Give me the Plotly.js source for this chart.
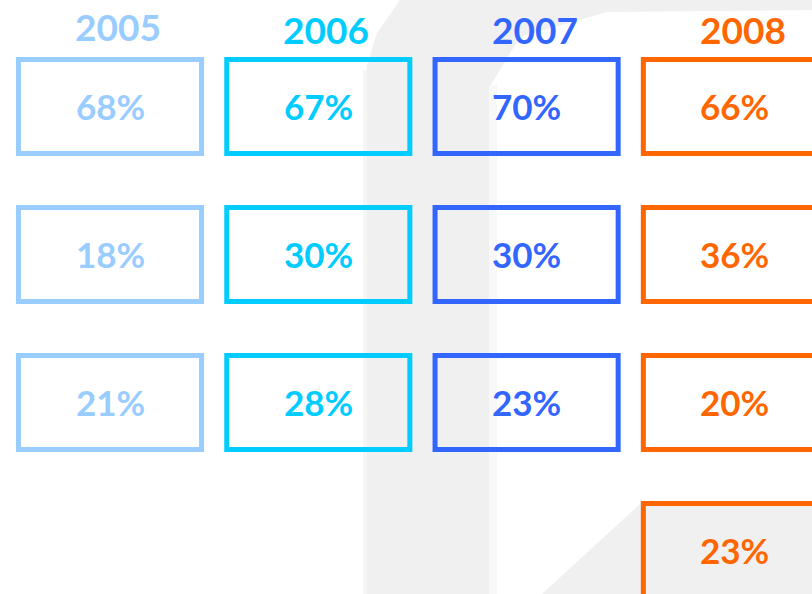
<!DOCTYPE html>
<html>
<head>
<meta charset="utf-8">
<script src="https://cdn.plot.ly/plotly-3.0.1.min.js"></script>
<style>html,body{margin:0;padding:0;background:#fff;}#chart{width:812px;height:594px;}</style>
</head>
<body>
<div id="chart"></div>
<script>
// ---- data ----
const years = ['2005', '2006', '2007', '2008'];
const values2005 = [68, 18, 21];
const values2006 = [67, 30, 28];
const values2007 = [70, 30, 23];
const values2008 = [66, 36, 20, 23];

// ---- style ----
const columns = [values2005, values2006, values2007, values2008];
const colors = ['#99ccff', '#00ccff', '#3366ff', '#ff6600'];
const W = 812, H = 594;
const FONT = 'Lato, "Open Sans", sans-serif';
const boxW = 0.879, boxH = 0.635;

const traces = [];
const annotations = [];
columns.forEach((vals, i) => {
  const rows = vals.map((_, r) => r);
  traces.push({
    type: 'bar',
    x: vals.map(() => i),
    y: vals.map(() => boxH),
    base: rows.map(r => r - boxH / 2),
    width: boxW,
    marker: {color: 'rgba(0,0,0,0)', line: {color: colors[i], width: 5}},
    hoverinfo: 'skip',
    showlegend: false
  });
  vals.forEach((v, r) => {
    annotations.push({
      x: i, xref: 'x', y: r, yref: 'y', yshift: 1,
      text: v + '%', showarrow: false,
      xanchor: 'center', yanchor: 'middle',
      font: {family: FONT, size: 35, color: colors[i], weight: 700}
    });
  });
  annotations.push({
    x: i, xref: 'x', y: 1 - (i === 0 ? 26 : 29) / H, yref: 'paper',
    text: years[i], showarrow: false, xshift: 8,
    xanchor: 'center', yanchor: 'middle',
    font: {family: FONT, size: 37, color: colors[i], weight: 700}
  });
});

// decorative light-grey background shapes (pixel coords -> paper)
function P(x, y) { return (x / W).toFixed(5) + ',' + (1 - y / H).toFixed(5); }
function poly(pts, color) {
  return {type: 'path', xref: 'paper', yref: 'paper', layer: 'below',
    path: 'M' + pts.map(p => P(p[0], p[1])).join('L') + 'Z',
    fillcolor: color, line: {width: 0}};
}
const shapes = [
  poly([[363, 70], [367, 70], [367, 594], [363, 594]], '#f6f6f6'),
  poly([[489, 88], [497, 84], [497, 594], [489, 594]], '#f8f8f8'),
  poly([[400, 0], [812, 0], [812, 10], [607, 12], [520, 37], [489, 88], [489, 594], [367, 594], [367, 65], [377, 33]], '#f0f0f0'),
  poly([[542, 594], [641, 503], [812, 503], [812, 594]], '#f0f0f0')
];

const unitX = 208.3, unitY = 148.0;
const x0 = -110 / unitX, y0 = -106.5 / unitY;
const layout = {
  width: W, height: H,
  margin: {l: 0, r: 0, t: 0, b: 0, pad: 0},
  paper_bgcolor: '#ffffff', plot_bgcolor: 'rgba(0,0,0,0)',
  barmode: 'overlay',
  xaxis: {range: [x0, x0 + W / unitX], visible: false, fixedrange: true},
  yaxis: {range: [y0 + H / unitY, y0], visible: false, fixedrange: true},
  shapes: shapes,
  annotations: annotations,
  showlegend: false
};

Plotly.newPlot('chart', traces, layout, {displayModeBar: false, staticPlot: true});
</script>
</body>
</html>
